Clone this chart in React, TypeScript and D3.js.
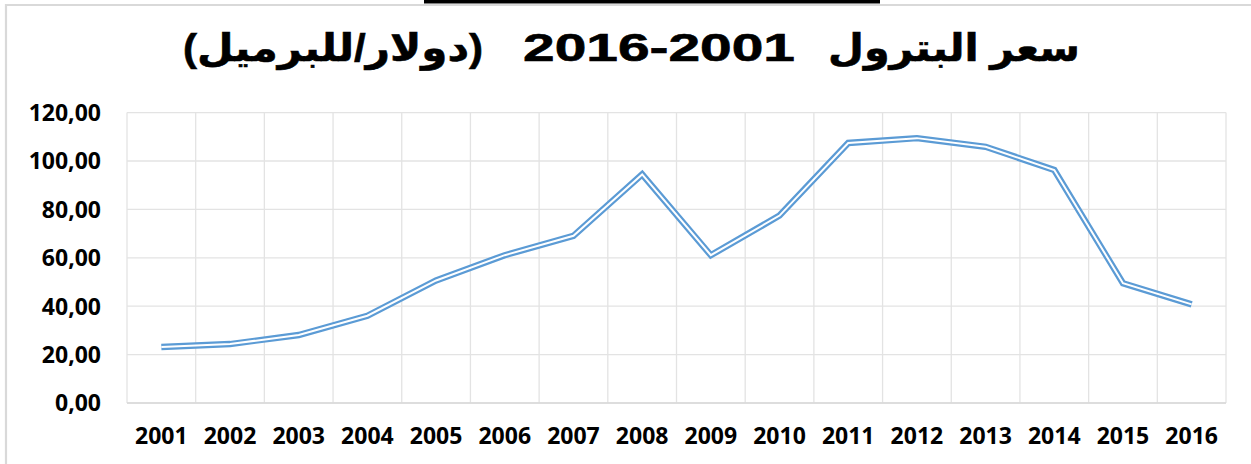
import React from "react";
import * as d3 from "d3";

// OPEC basket price, USD per barrel
const years: string[] = [
  "2001", "2002", "2003", "2004", "2005", "2006", "2007", "2008",
  "2009", "2010", "2011", "2012", "2013", "2014", "2015", "2016",
];
const prices: number[] = [
  23.12, 24.36, 28.1, 36.05, 50.64, 61.08, 69.08, 94.45,
  61.06, 77.45, 107.46, 109.45, 105.87, 96.29, 49.49, 40.76,
];
const yTicks: number[] = [0, 20, 40, 60, 80, 100, 120];

// Title pieces, laid out right to left
const titleWords = "سعر البترول";
const titleYears = "2016-2001";
const titleUnit = "(دولار/للبرميل)";

const W = 1251;
const H = 464;
const plot = { left: 127, right: 1226, top: 112.6, bottom: 403 };
const BLUE = "#5B9BD5";
const GRID = "#e3e3e3";
const TICK_FONT = "'Open Sans', 'DejaVu Sans', sans-serif";
const TITLE_FONT = "'Liberation Sans', Arial, 'DejaVu Sans', sans-serif";

const fmt = (v: number) => v.toFixed(2).replace(".", ",");

export default function App() {
  const x = d3.scaleBand<string>().domain(years).range([plot.left, plot.right]);
  const y = d3.scaleLinear().domain([0, 120]).range([plot.bottom, plot.top]);
  const cx = (yr: string) => (x(yr) ?? 0) + x.bandwidth() / 2;

  const line = d3
    .line<number>()
    .x((_, i) => cx(years[i]))
    .y((v) => y(v));
  const path = line(prices) ?? "";

  const bounds = [...years.map((yr) => x(yr) ?? 0), plot.right];

  return (
    <svg
      width={W}
      height={H}
      style={{ position: "absolute", left: 0, top: 0, background: "#fff" }}
    >
      {/* frame */}
      <rect x={424} y={0} width={456} height={3.5} fill="#000" />
      <path d={`M6,${H + 5} V5 H${W + 5}`} fill="none" stroke="#d9d9d9" strokeWidth={2.2} />

      {/* title */}
      <g
        fontFamily={TITLE_FONT}
        fontWeight="bold"
        fontSize={38}
        fill="#000"
        stroke="#000"
        strokeWidth={0.6}
      >
        <text
          x={1080}
          y={61}
          textAnchor="start"
          direction="rtl"
          textLength={252}
          lengthAdjust="spacingAndGlyphs"
        >
          {titleWords}
        </text>
        <text x={523} y={61} textLength={272} lengthAdjust="spacingAndGlyphs">
          {titleYears}
        </text>
        <text
          x={183}
          y={61}
          direction="rtl"
          textAnchor="end"
          textLength={300}
          lengthAdjust="spacingAndGlyphs"
        >
          {titleUnit}
        </text>
      </g>

      {/* grid */}
      <g stroke={GRID} strokeWidth={1.3} fill="none">
        {yTicks.map((t) => (
          <line key={`h${t}`} x1={plot.left} x2={plot.right} y1={y(t)} y2={y(t)} />
        ))}
        {bounds.map((b, i) => (
          <line key={`v${i}`} x1={b} x2={b} y1={plot.top} y2={plot.bottom} />
        ))}
      </g>
      <line
        x1={plot.left}
        x2={plot.right}
        y1={plot.bottom}
        y2={plot.bottom}
        stroke="#d9d9d9"
        strokeWidth={1.5}
      />

      {/* y axis labels */}
      <g fontFamily={TICK_FONT} fontWeight="bold" fontSize={23} fill="#000" textAnchor="end">
        {yTicks.map((t) => (
          <text key={t} x={101} y={y(t) + 8.3}>
            {fmt(t)}
          </text>
        ))}
      </g>

      {/* x axis labels */}
      <g fontFamily={TICK_FONT} fontWeight="bold" fontSize={23} fill="#000" textAnchor="middle">
        {years.map((yr) => (
          <text key={yr} x={cx(yr)} y={444}>
            {yr}
          </text>
        ))}
      </g>

      {/* double-stroke price line */}
      <path d={path} fill="none" stroke={BLUE} strokeWidth={6.4} strokeLinejoin="miter" />
      <path d={path} fill="none" stroke="#fff" strokeWidth={2} strokeLinejoin="miter" />
    </svg>
  );
}
